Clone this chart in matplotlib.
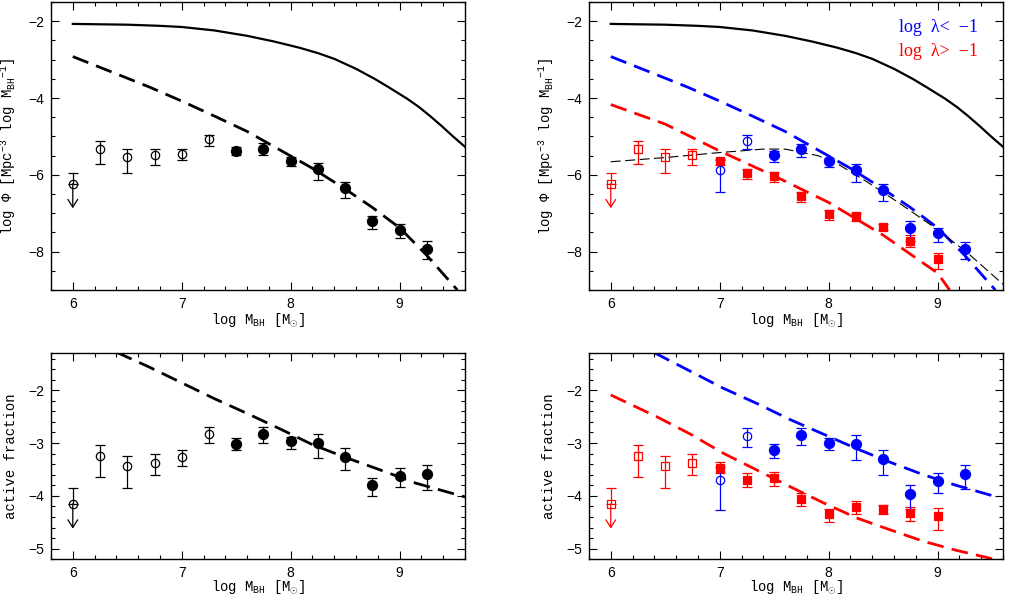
import matplotlib.pyplot as plt
import numpy as np
from matplotlib.ticker import MultipleLocator

plt.rcParams["mathtext.fontset"] = "custom"
plt.rcParams["mathtext.rm"] = "Liberation Mono"
plt.rcParams["mathtext.it"] = "Liberation Mono:italic"
plt.rcParams["mathtext.bf"] = "Liberation Mono:bold"
plt.rcParams["axes.linewidth"] = 1.0

# ---- mass bins (log M_BH)
limit_x = 6.0
open_x = [6.25, 6.5, 6.75, 7.0, 7.25]
fill_x = [7.5, 7.75, 8.0, 8.25, 8.5, 8.75, 9.0, 9.25]
red_x = [7.0, 7.25, 7.5, 7.75, 8.0, 8.25, 8.5, 8.75, 9.0]
blue_open_x = [7.0, 7.25]

# ---- mass function, all AGN (top left)
phi_limit = [-6.23, -5.94, -6.87]  # value, top of bar, arrow tip
phi_open_y = [-5.33, -5.54, -5.49, -5.45, -5.06]
phi_open_lo = [-5.73, -5.95, -5.75, -5.62, -5.25]
phi_open_hi = [-5.13, -5.34, -5.34, -5.32, -4.95]
phi_fill_y = [-5.37, -5.32, -5.63, -5.85, -6.34, -7.20, -7.44, -7.93]
phi_fill_lo = [-5.49, -5.49, -5.77, -6.14, -6.60, -7.42, -7.64, -8.20]
phi_fill_hi = [-5.27, -5.17, -5.53, -5.68, -6.18, -7.07, -7.28, -7.72]

# ---- mass function split by Eddington ratio (top right)
phi_red_y = [-5.65, -5.95, -6.03, -6.55, -7.01, -7.07, -7.36, -7.72, -8.20]
phi_red_lo = [-5.75, -6.10, -6.18, -6.70, -7.18, -7.19, -7.44, -7.87, -8.45]
phi_red_hi = [-5.58, -5.86, -5.92, -6.46, -6.92, -6.99, -7.28, -7.58, -8.04]
phi_blue_open_y = [-5.88, -5.13]
phi_blue_open_lo = [-6.46, -5.33]
phi_blue_open_hi = [-5.62, -4.97]
phi_blue_y = [-5.49, -5.34, -5.65, -5.88, -6.40, -7.38, -7.52, -7.92]
phi_blue_lo = [-5.66, -5.54, -5.79, -6.18, -6.68, -7.72, -7.75, -8.20]
phi_blue_hi = [-5.38, -5.19, -5.55, -5.71, -6.23, -7.20, -7.38, -7.74]

# ---- active fraction, all AGN (bottom left)
frac_limit = [-4.15, -3.85, -4.62]
frac_open_y = [-3.24, -3.44, -3.37, -3.27, -2.82]
frac_open_lo = [-3.65, -3.85, -3.61, -3.44, -2.99]
frac_open_hi = [-3.04, -3.24, -3.21, -3.14, -2.69]
frac_fill_y = [-3.02, -2.83, -2.97, -3.00, -3.26, -3.80, -3.63, -3.59]
frac_fill_lo = [-3.14, -3.00, -3.12, -3.29, -3.51, -4.00, -3.83, -3.88]
frac_fill_hi = [-2.91, -2.70, -2.88, -2.83, -3.10, -3.67, -3.48, -3.41]

# ---- active fraction split (bottom right)
frac_red_y = [-3.48, -3.69, -3.66, -4.05, -4.35, -4.22, -4.25, -4.32, -4.39]
frac_red_lo = [-3.57, -3.84, -3.82, -4.19, -4.50, -4.34, -4.34, -4.47, -4.64]
frac_red_hi = [-3.36, -3.57, -3.55, -3.95, -4.25, -4.10, -4.17, -4.21, -4.23]
frac_blue_open_y = [-3.69, -2.87]
frac_blue_open_lo = [-4.26, -3.07]
frac_blue_open_hi = [-3.45, -2.72]
frac_blue_y = [-3.13, -2.85, -3.00, -3.02, -3.31, -3.96, -3.71, -3.59]
frac_blue_lo = [-3.29, -3.04, -3.14, -3.33, -3.60, -4.25, -3.95, -3.87]
frac_blue_hi = [-3.01, -2.71, -2.90, -2.85, -3.13, -3.80, -3.56, -3.42]

# ---- model curves
bhmf_x = [6.0, 6.5, 6.8, 7.0, 7.3, 7.6, 7.85, 8.08, 8.25, 8.4, 8.6, 8.77,
          8.9, 9.07, 9.18, 9.28, 9.39, 9.49, 9.6]
bhmf_y = [-2.07, -2.09, -2.12, -2.15, -2.24, -2.38, -2.53, -2.69, -2.83,
          -2.98, -3.24, -3.50, -3.72, -4.02, -4.24, -4.47, -4.74, -5.00,
          -5.27]
model_x = [6.0, 6.4, 6.7, 7.0, 7.3, 7.6, 7.9, 8.2, 8.5, 8.75, 9.0, 9.25, 9.53]
model_y = [-2.92, -3.37, -3.71, -4.08, -4.47, -4.87, -5.35, -5.83, -6.37,
           -6.85, -7.38, -8.10, -9.0]
model_red_x = [6.0, 6.5, 7.0, 7.5, 8.0, 8.5, 9.0, 9.11]
model_red_y = [-4.17, -4.68, -5.38, -6.03, -6.72, -7.57, -8.56, -9.0]
fit_x = [6.0, 6.5, 7.0, 7.4, 7.6, 7.9, 8.05, 8.35, 8.65, 8.96, 9.27, 9.6]
fit_y = [-5.66, -5.55, -5.42, -5.33, -5.33, -5.50, -5.66, -6.18, -6.74,
         -7.35, -8.02, -8.85]
frac_model_x = [6.4, 6.7, 7.0, 7.3, 7.6, 7.9, 8.2, 8.5, 8.85, 9.15, 9.6]
frac_model_y = [-1.28, -1.56, -1.86, -2.16, -2.44, -2.73, -3.03, -3.27,
                -3.53, -3.76, -4.02]
frac_blue_model_x = [6.4, 6.73, 7.03, 7.34, 7.64, 7.95, 8.26, 8.56, 8.87,
                     9.17, 9.56]
frac_blue_model_y = [-1.29, -1.64, -1.96, -2.25, -2.55, -2.83, -3.11, -3.36,
                     -3.60, -3.80, -4.03]
frac_red_model_x = [6.0, 6.42, 6.73, 7.03, 7.34, 7.64, 7.95, 8.26, 8.56,
                    8.87, 9.17, 9.46, 9.55]
frac_red_model_y = [-2.09, -2.50, -2.83, -3.19, -3.51, -3.82, -4.13, -4.42,
                    -4.64, -4.86, -5.03, -5.17, -5.22]

MONO = "Liberation Mono"
XLABEL = r"log M$_{\rm BH}$ [M$_{\odot}$]"
PHI_LABEL = r"log $\Phi$ [Mpc$^{-3}$ log M$_{\rm BH}$${}^{-1}$]"
DASH = (0, (6, 3))
OPEN_MS = 6
FILL_MS = 7.2
SQ_MS = 6


def points(ax, x, y, lo, hi, color, marker, filled, size):
    y = np.asarray(y)
    yerr = [y - np.asarray(lo), np.asarray(hi) - y]
    ax.errorbar(
        x, y, yerr=yerr, fmt=marker, ms=size, mew=0.9,
        mfc=color if filled else "none", mec=color,
        ecolor=color, elinewidth=0.9, capsize=3.6, capthick=0.9, zorder=3,
    )


def upper_limit(ax, limit, color, marker, size):
    value, top, tip = limit
    ax.errorbar(
        [limit_x], [value], yerr=[[0], [top - value]], fmt=marker, ms=size,
        mew=0.9, mfc="none", mec=color, ecolor=color, elinewidth=0.9,
        capsize=3.6, capthick=0.9, zorder=3,
    )
    ax.annotate(
        "", xy=(limit_x, tip), xytext=(limit_x, value),
        arrowprops=dict(
            arrowstyle="->,head_length=0.55,head_width=0.35",
            color=color, lw=0.9, shrinkA=0, shrinkB=0, mutation_scale=10,
        ),
        zorder=3,
    )


def style(ax, ylim, ymajor, yminor, ylabel, top):
    ax.set_xlim(5.8, 9.6)
    ax.set_ylim(*ylim)
    ax.xaxis.set_major_locator(MultipleLocator(1))
    ax.xaxis.set_minor_locator(MultipleLocator(0.2))
    ax.yaxis.set_major_locator(MultipleLocator(ymajor))
    ax.yaxis.set_minor_locator(MultipleLocator(yminor))
    ax.tick_params(which="both", direction="in", top=True, right=True,
                   width=0.8, labelsize=10, pad=5)
    ax.tick_params(which="major", length=6)
    ax.tick_params(which="minor", length=3)
    for lab in ax.get_xticklabels() + ax.get_yticklabels():
        lab.set_fontfamily("Liberation Sans")
    ax.set_xlabel(XLABEL, fontfamily=MONO, fontsize=10)
    ax.set_ylabel(ylabel, fontfamily=MONO, fontsize=10)
    h = 288 if top else 206
    ax.xaxis.set_label_coords(0.5, -(21 if top else 19) / h)
    ax.yaxis.set_label_coords(-33 / 414, 0.5)


fig = plt.figure(figsize=(10.12, 5.97), dpi=100)
ax_tl = fig.add_axes([0.0504, 0.5142, 0.4091, 0.4824])
ax_tr = fig.add_axes([0.5820, 0.5142, 0.4091, 0.4824])
ax_bl = fig.add_axes([0.0504, 0.0632, 0.4091, 0.3451])
ax_br = fig.add_axes([0.5820, 0.0632, 0.4091, 0.3451])

# top left
ax_tl.plot(bhmf_x, bhmf_y, color="k", lw=1.6)
ax_tl.plot(model_x, model_y, color="k", lw=2.0, ls=DASH)
upper_limit(ax_tl, phi_limit, "k", "o", OPEN_MS)
points(ax_tl, open_x, phi_open_y, phi_open_lo, phi_open_hi, "k", "o", False,
       OPEN_MS)
points(ax_tl, fill_x, phi_fill_y, phi_fill_lo, phi_fill_hi, "k", "o", True,
       FILL_MS)
style(ax_tl, (-9, -1.5), 2, 0.5, PHI_LABEL, True)

# top right
ax_tr.plot(bhmf_x, bhmf_y, color="k", lw=1.6)
ax_tr.plot(model_x, model_y, color="blue", lw=2.0, ls=DASH)
ax_tr.plot(model_red_x, model_red_y, color="red", lw=2.0, ls=DASH)
ax_tr.plot(fit_x, fit_y, color="k", lw=0.8, ls=(0, (9, 4)))
upper_limit(ax_tr, phi_limit, "red", "s", SQ_MS)
points(ax_tr, open_x[:3], phi_open_y[:3], phi_open_lo[:3], phi_open_hi[:3],
       "red", "s", False, SQ_MS)
points(ax_tr, red_x, phi_red_y, phi_red_lo, phi_red_hi, "red", "s", True,
       SQ_MS)
points(ax_tr, blue_open_x, phi_blue_open_y, phi_blue_open_lo,
       phi_blue_open_hi, "blue", "o", False, OPEN_MS)
points(ax_tr, fill_x, phi_blue_y, phi_blue_lo, phi_blue_hi, "blue", "o", True,
       FILL_MS)
ax_tr.text(0.94, 0.91, "log  λ<  −1", color="blue", transform=ax_tr.transAxes,
           ha="right", va="center", fontfamily="Liberation Serif", fontsize=13)
ax_tr.text(0.94, 0.827, "log  λ>  −1", color="red", transform=ax_tr.transAxes,
           ha="right", va="center", fontfamily="Liberation Serif", fontsize=13)
style(ax_tr, (-9, -1.5), 2, 0.5, PHI_LABEL, True)

# bottom left
ax_bl.plot(frac_model_x, frac_model_y, color="k", lw=2.0, ls=DASH)
upper_limit(ax_bl, frac_limit, "k", "o", OPEN_MS)
points(ax_bl, open_x, frac_open_y, frac_open_lo, frac_open_hi, "k", "o",
       False, OPEN_MS)
points(ax_bl, fill_x, frac_fill_y, frac_fill_lo, frac_fill_hi, "k", "o", True,
       FILL_MS)
style(ax_bl, (-5.2, -1.3), 1, 0.2, "active fraction", False)

# bottom right
ax_br.plot(frac_blue_model_x, frac_blue_model_y, color="blue", lw=2.0, ls=DASH)
ax_br.plot(frac_red_model_x, frac_red_model_y, color="red", lw=2.0, ls=DASH)
upper_limit(ax_br, frac_limit, "red", "s", SQ_MS)
points(ax_br, open_x[:3], frac_open_y[:3], frac_open_lo[:3],
       frac_open_hi[:3], "red", "s", False, SQ_MS)
points(ax_br, red_x, frac_red_y, frac_red_lo, frac_red_hi, "red", "s", True,
       SQ_MS)
points(ax_br, blue_open_x, frac_blue_open_y, frac_blue_open_lo,
       frac_blue_open_hi, "blue", "o", False, OPEN_MS)
points(ax_br, fill_x, frac_blue_y, frac_blue_lo, frac_blue_hi, "blue", "o",
       True, FILL_MS)
style(ax_br, (-5.2, -1.3), 1, 0.2, "active fraction", False)

fig.savefig("out.png", dpi=100)
